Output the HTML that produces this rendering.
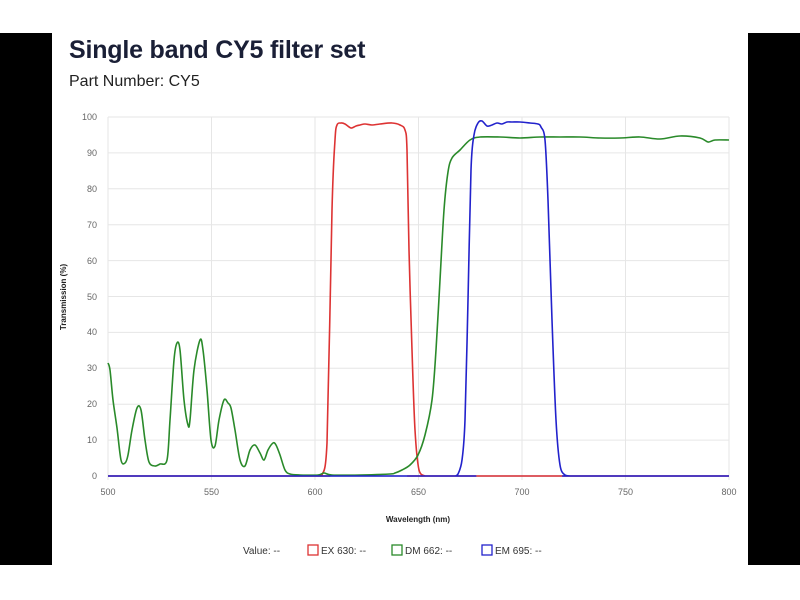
<!DOCTYPE html>
<html><head><meta charset="utf-8"><style>
body{margin:0;width:800px;height:600px;background:#fff;position:relative;overflow:hidden;font-family:"Liberation Sans",sans-serif}
.bar{position:absolute;top:33px;height:532px;width:52px;background:#000}
</style></head><body>
<div class="bar" style="left:0"></div><div class="bar" style="left:748px"></div>
<div style="position:absolute;left:69px;top:36px;font-size:25px;font-weight:900;color:#1a1f36;letter-spacing:-0.2px">Single band CY5 filter set</div>
<div style="position:absolute;left:69px;top:73px;font-size:16px;color:#222">Part Number: CY5</div>
<svg width="800" height="600" style="position:absolute;left:0;top:0" font-family="Liberation Sans, sans-serif">
<g stroke="#e6e6e6" stroke-width="1">
<line x1="108" x2="729" y1="117" y2="117"/><line x1="108" x2="729" y1="152.9" y2="152.9"/><line x1="108" x2="729" y1="188.8" y2="188.8"/><line x1="108" x2="729" y1="224.7" y2="224.7"/><line x1="108" x2="729" y1="260.6" y2="260.6"/><line x1="108" x2="729" y1="296.5" y2="296.5"/><line x1="108" x2="729" y1="332.4" y2="332.4"/><line x1="108" x2="729" y1="368.3" y2="368.3"/><line x1="108" x2="729" y1="404.2" y2="404.2"/><line x1="108" x2="729" y1="440.1" y2="440.1"/>
<line x1="108" x2="108" y1="117" y2="480"/><line x1="211.5" x2="211.5" y1="117" y2="480"/><line x1="315" x2="315" y1="117" y2="480"/><line x1="418.5" x2="418.5" y1="117" y2="480"/><line x1="522" x2="522" y1="117" y2="480"/><line x1="625.5" x2="625.5" y1="117" y2="480"/><line x1="729" x2="729" y1="117" y2="480"/>
</g>
<g font-size="9" fill="#666" text-anchor="end">
<text x="97" y="120">100</text><text x="97" y="156">90</text><text x="97" y="192">80</text><text x="97" y="228">70</text><text x="97" y="264">60</text><text x="97" y="300">50</text><text x="97" y="335">40</text><text x="97" y="371">30</text><text x="97" y="407">20</text><text x="97" y="443">10</text><text x="97" y="479">0</text>
</g>
<g font-size="9" fill="#666" text-anchor="middle">
<text x="108" y="495">500</text><text x="211.5" y="495">550</text><text x="315" y="495">600</text><text x="418.5" y="495">650</text><text x="522" y="495">700</text><text x="625.5" y="495">750</text><text x="729" y="495">800</text>
</g>
<text x="418" y="522" font-size="8" font-weight="bold" text-anchor="middle" fill="#222">Wavelength (nm)</text>
<text transform="translate(66,297) rotate(-90)" font-size="8" font-weight="bold" text-anchor="middle" fill="#222">Transmission (%)</text>
<line x1="108" x2="729" y1="476" y2="476" stroke="#7a6ad0" stroke-width="1.2"/>
<path id="r" fill="none" stroke="#d33" stroke-width="1.6" stroke-linejoin="round"/>
<path id="g" fill="none" stroke="#2a8a2a" stroke-width="1.6" stroke-linejoin="round"/>
<path id="b" fill="none" stroke="#22c" stroke-width="1.6" stroke-linejoin="round"/>
<g font-size="10" fill="#333">
<text x="243" y="554">Value:  --</text>
<rect x="308" y="545" width="10" height="10" fill="none" stroke="#d33" stroke-width="1.3"/><text x="321" y="554">EX 630:  --</text>
<rect x="392" y="545" width="10" height="10" fill="none" stroke="#2a8a2a" stroke-width="1.3"/><text x="405" y="554">DM 662:  --</text>
<rect x="482" y="545" width="10" height="10" fill="none" stroke="#22c" stroke-width="1.3"/><text x="495" y="554">EM 695:  --</text>
</g>
</svg>
<script>
function sm(s){var p=s.trim().split(/\s+/).map(function(t){return t.split(',').map(Number)});var d='M'+p[0][0]+','+p[0][1];
for(var i=0;i<p.length-1;i++){var a=p[i-1]||p[i],b=p[i],c=p[i+1],e=p[i+2]||c;var t=0.16;
var y1=b[1]+(c[1]-a[1])*t,y2=c[1]-(e[1]-b[1])*t;y1=Math.min(y1,476);y2=Math.min(y2,476);
d+=' C'+(b[0]+(c[0]-a[0])*t)+','+y1+' '+(c[0]-(e[0]-b[0])*t)+','+y2+' '+c[0]+','+c[1];}return d;}
document.getElementById('r').setAttribute('d',sm("108,476 314,476 318,476 322,475 327,443 332,210 335,140 337,125 341,123 345,124 351,128 356,126 360,125 365,124 372,125 380,124 392,123 400,125 405,130 407,150 409,250 412,350 415,430 419,470 425,476 430,476 729,476"));
document.getElementById('g').setAttribute('d',sm("108,363 110,370 113,400 117,428 121,460 125,463 128,455 132,430 137,408 141,410 145,440 149,462 155,466 160,464 167,460 170,420 174,360 177,343 180,350 184,400 188,425 190,420 194,370 200,340 203,350 207,390 211,440 215,446 219,420 224,400 228,403 231,408 235,430 240,460 245,466 250,450 255,445 260,453 264,460 268,450 273,443 276,445 280,455 285,470 290,474 300,475 318,475 324,473 332,475 360,475 390,474 395,473 402,470 410,465 418,455 425,435 432,400 436,350 440,280 444,210 448,172 452,158 460,150 470,140 480,137 500,137 520,138 540,137 560,137 580,137 600,138 620,138 640,137 660,139 680,136 700,138 708,142 715,140 729,140"));
document.getElementById('b').setAttribute('d',sm("108,476 450,476 455,476 458,474 462,460 465,420 468,300 471,170 474,135 478,123 482,121 487,126 492,125 497,123 502,124 507,122 512,122 520,122 530,123 538,124 541,127 545,140 548,200 552,320 556,420 560,465 565,475 570,476 575,476 729,476"));
</script>
</body></html>
